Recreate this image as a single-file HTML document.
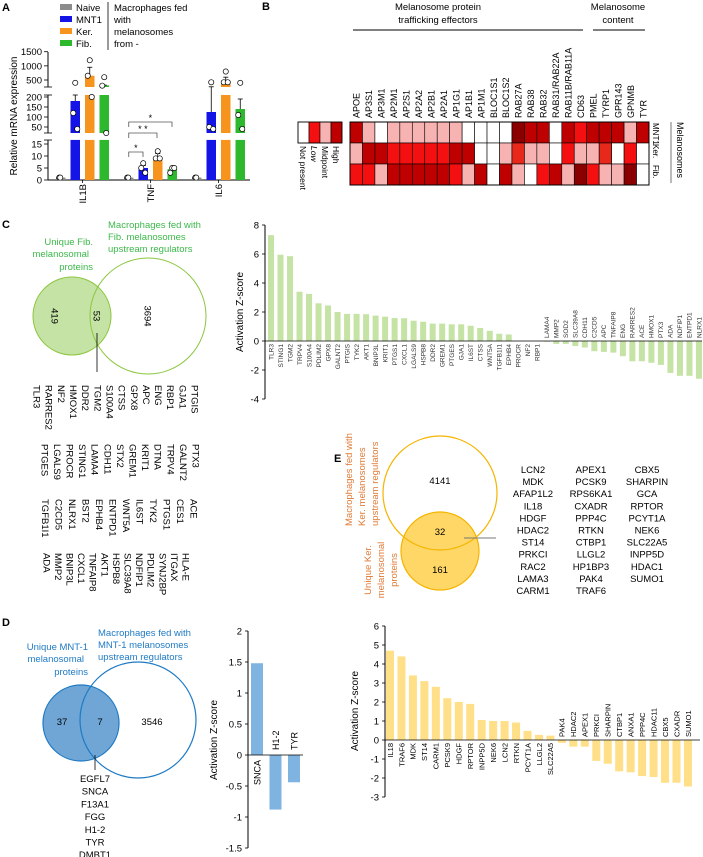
<!DOCTYPE html>
<html><head><meta charset="utf-8"><style>
body{margin:0;background:#fff;}
svg{display:block;font-family:"Liberation Sans",Arial,sans-serif;}
</style></head><body>
<svg id="fig" width="703" height="857" viewBox="0 0 703 857" xmlns="http://www.w3.org/2000/svg">
<g id="A"></g>
<g id="B"></g>
<g id="C"></g>
<g id="D"></g>
<g id="E"></g>
</svg>
<script>
// ---------- Panel A data ----------
const aGenes = ["IL1B","TNF","IL6"];
const aGroups = ["Naive","MNT1","Ker.","Fib."];
const aNaive = [1,1,1];
const aMNT1 = [180,5,125];
const aKer = [650,9.5,430];
const aFib = [310,4.5,140];
const aDotsNaive = [[1,1],[1,1],[1,1]];
const aDotsMNT1 = [[400,120,40],[7,5,3],[420,50,40]];
const aDotsKer = [[1200,650,200],[12,9,9],[800,420,420]];
const aDotsFib = [[600,300,20],[5,3,5],[400,110,40]];
const aErrMNT1 = [210,6,260];
const aErrKer = [950,11,600];
const aErrFib = [320,5.5,190];
const aTicks1 = [1500,1000,500];
const aTicks2 = [200,150,100,50];
const aTicks3 = [15,10,5,0];
// ---------- Panel B data ----------
const bCols = ["APOE","AP3S1","AP3M1","AP2M1","AP2S1","AP2A2","AP2B1","AP2A1","AP1G1","AP1B1","AP1M1","BLOC1S1","BLOC1S2","RAB27A","RAB38","RAB32","RAB31/RAB22A","RAB11B/RAB11A","CD63","PMEL","TYRP1","GPR143","GPNMB","TYR"];
const bRows = ["MNT1","Ker.","Fib."];
const bMNT1 = ["H","M","W","M","M","M","M","M","M","W","W","W","W","X","H","H","W","H","L","H","H","H","M","H"];
const bKer  = ["M","H","H","L","L","L","L","L","H","H","W","W","M","O","M","M","W","L","M","M","O","W","L","W"];
const bFib  = ["L","L","M","H","H","H","H","H","L","M","H","W","H","M","W","L","H","M","X","L","M","M","X","W"];
// ---------- Panel C data ----------
const cGenes = ["TLR3","STING1","TGM2","TRPV4","S100A4","PDLIM2","GPX8","GALNT2","PTGIS","TYK2","AKT1","BNIP3L","KRIT1","PTGS1","CXCL1","LGALS9","HSPB8","DDR2","GREM1","PTGES","GJA1","IL6ST","CTSS","WNT5A","TGFB1I1","EPHB4","PROCR","NF2","RBP1","LAMA4","MMP2","SOD2","SLC39A8","CDH11","C2CD5","APC","TNFAIP8","ENG","RARRES2","ACE","HMOX1","PTX3","ADA","NDFIP1","ENTPD1","NLRX1"];
const cValues = [7.3,5.95,5.85,3.4,3.25,2.6,2.45,2.0,1.87,1.87,1.85,1.75,1.68,1.58,1.57,1.4,1.33,1.2,1.2,1.15,1.15,1.05,0.9,0.7,0.5,0.45,0,0,0,-0.05,-0.2,-0.2,-0.35,-0.45,-0.7,-0.75,-0.8,-1.05,-1.4,-1.4,-1.5,-1.65,-2.2,-2.4,-2.4,-2.6];
const cTicks = [8,6,4,2,0,-2,-4];
// ---------- Panel D data ----------
const dGenes = ["SNCA","H1-2","TYR"];
const dValues = [1.48,-0.88,-0.44];
const dTicks = [2,1.5,1,0.5,0,-0.5,-1,-1.5];
// ---------- Panel E data ----------
const eGenes = ["IL18","TRAF6","MDK","ST14","CARM1","PCSK9","HDGF","RPTOR","INPP5D","NEK6","LCN2","RTKN","PCYT1A","LLGL2","SLC22A5","PAK4","HDAC2","APEX1","PRKCI","SHARPIN","CTBP1","ANXA1","PPP4C","HDAC11","CBX5","CXADR","SUMO1"];
const eValues = [4.7,4.4,3.4,3.1,2.8,2.2,2.0,1.9,1.05,1.0,1.0,0.92,0.48,0.27,0.23,-0.15,-0.35,-0.35,-1.1,-1.25,-1.65,-1.7,-1.9,-1.95,-2.25,-2.25,-2.45];
const eTicks = [6,5,4,3,2,1,0,-1,-2,-3];

const NS="http://www.w3.org/2000/svg";
function mk(parent,tag,attrs,text){const e=document.createElementNS(NS,tag);for(const k in attrs)e.setAttribute(k,attrs[k]);if(text!==undefined)e.textContent=text;parent.appendChild(e);return e;}

// ================= Panel A =================
const A=document.getElementById('A');
let t=mk(A,'text',{x:2,y:11,'font-size':11,'font-weight':'bold'},'A');


const aCols=["#8c8c8c","#1414e6","#f7941d","#2db82d"];
aGroups.forEach((g,i)=>{
  const r=mk(A,'rect',{x:60,y:4+i*12,width:12,height:6,fill:aCols[i]});
  
  
  const tx=mk(A,'text',{x:76,y:11+i*12,'font-size':9.5},g);
  
  
});
mk(A,'line',{x1:108,y1:2,x2:108,y2:50,stroke:'#000','stroke-width':0.8});
["Macrophages fed","with","melanosomes","from -"].forEach((s,i)=>{
  const tx=mk(A,'text',{x:114,y:11+i*12,'font-size':9.5},s);
  
  
});
function yA(v){
  if(v<=16.7) return 180-v*2.4;
  if(v<=210) return 127-(v-50)*0.2;
  return 80-(v-500)*0.0283;
}
[[52,87],[95,133],[140,180]].forEach(s=>mk(A,'line',{x1:48,y1:s[0],x2:48,y2:s[1],stroke:'#000','stroke-width':1}));
[[87],[95],[133],[140]].forEach(s=>mk(A,'line',{x1:44,y1:s[0],x2:52,y2:s[0],stroke:'#000','stroke-width':0.8}));
mk(A,'line',{x1:48,y1:180,x2:250,y2:180,stroke:'#000','stroke-width':1});
aTicks1.concat(aTicks2,aTicks3).forEach(v=>{
  const y=yA(v);
  mk(A,'line',{x1:44,y1:y,x2:48,y2:y,stroke:'#000','stroke-width':0.8});
  const tx=mk(A,'text',{x:42,y:y+3.5,'font-size':9.5,'text-anchor':'end'},v);
  
  
});
t=mk(A,'text',{transform:'translate(17,116) rotate(-90)','font-size':10,'text-anchor':'middle'},'Relative mRNA expression');


const aAll=[aNaive,aMNT1,aKer,aFib], aDots=[aDotsNaive,aDotsMNT1,aDotsKer,aDotsFib], aErr=[null,aErrMNT1,aErrKer,aErrFib];
const gStart=[56,124,192], bw=9.5, step=14.5;
aGenes.forEach((gene,gi)=>{
  const gx=gStart[gi];
  aAll.forEach((arr,si)=>{
    const v=arr[gi], x=gx+si*step;
    const segs=[[0,16.7,180,140],[20,210,133,95],[250,1500,87,52]];
    segs.forEach(s=>{
      if(v>s[0]){const top=yA(Math.min(v,s[1]));const r=mk(A,'rect',{x:x,y:top,width:bw,height:Math.max(0,s[2]-top),fill:aCols[si]});
        
        }
    });
    if(aErr[si]){const e=aErr[si][gi];const y1=yA(e),y0=yA(v);
      mk(A,'line',{x1:x+bw/2,y1:y1,x2:x+bw/2,y2:y0,stroke:'#000','stroke-width':0.8});
      mk(A,'line',{x1:x+bw/2-2.5,y1:y1,x2:x+bw/2+2.5,y2:y1,stroke:'#000','stroke-width':0.8});}
    aDots[si][gi].forEach((dv,di)=>{
      const c=mk(A,'circle',{cx:x+bw/2+(di===1?-2:(di===2?2:0))+(si===0?(di-0.5)*3:0),cy:yA(dv),r:2.6,fill:'#fff',stroke:'#000','stroke-width':0.7});
      
      
    });
  });
  const cx=gx+1.5*step+bw/2;
  mk(A,'line',{x1:cx,y1:180,x2:cx,y2:183,stroke:'#000','stroke-width':0.8});
  const tx=mk(A,'text',{transform:`translate(${cx+3.5},184) rotate(-90)`,'font-size':9.5,'text-anchor':'end'},gene);
  
  
});
[[122,172,'*'],[133,157,'* *'],[152,143,'*']].forEach(b=>{
  const x0=gStart[1]+bw/2;
  mk(A,'path',{d:`M${x0},${b[0]+5}V${b[0]}H${b[1]}V${b[0]+5}`,fill:'none',stroke:'#555','stroke-width':0.8});
  const tx=mk(A,'text',{x:(x0+b[1])/2,y:b[0]-1,'font-size':9,'text-anchor':'middle'},b[2]);
  
  
});

// ================= Panel B =================
const B=document.getElementById('B');
t=mk(B,'text',{x:262,y:10,'font-size':11,'font-weight':'bold'},'B');


const hmCol={W:'#ffffff',L:'#f41010',M:'#f7b2b2',H:'#bf0000',X:'#8a0000',O:'#e8281a'};
const bx0=350,bcw=299/24,by0=122,brh=21;
[bMNT1,bKer,bFib].forEach((row,ri)=>{
  row.forEach((c,ci)=>{
    const r=mk(B,'rect',{x:bx0+ci*bcw,y:by0+ri*brh,width:bcw,height:brh,fill:hmCol[c],stroke:'#000','stroke-width':0.6});
    
    
  });
});
mk(B,'rect',{x:bx0,y:by0,width:299,height:63,fill:'none',stroke:'#000','stroke-width':1});
bCols.forEach((g,ci)=>{
  const x=bx0+ci*bcw+bcw/2+3.5;
  const tx=mk(B,'text',{transform:`translate(${x},118) rotate(-90)`,'font-size':9},g);
  
  
});
bRows.forEach((r,ri)=>{
  const tx=mk(B,'text',{transform:`translate(653,${by0+ri*brh+1}) rotate(90)`,'font-size':8},r);
  
  
});
mk(B,'line',{x1:671,y1:122,x2:671,y2:183,stroke:'#555','stroke-width':0.8});
t=mk(B,'text',{transform:'translate(677,122) rotate(90)','font-size':9},'Melanosomes');

const legC=['#ffffff','#f41010','#f7b2b2','#bf0000'],legL=['Not present','Low','Midpoint','High'];
legC.forEach((c,i)=>{
  const r=mk(B,'rect',{x:298+i*11,y:122,width:11,height:21,fill:c,stroke:'#000','stroke-width':0.6});
  
  const tx=mk(B,'text',{transform:`translate(${298+i*11+2},146) rotate(90)`,'font-size':8.5,'font-style':i===1?'italic':'normal'},legL[i]);
  
});
mk(B,'rect',{x:298,y:122,width:44,height:21,fill:'none',stroke:'#000','stroke-width':0.8});
[["Melanosome protein",438,10],["trafficking effectors",438,23],["Melanosome",618,10],["content",618,23]].forEach(s=>{
  const tx=mk(B,'text',{x:s[1],y:s[2],'font-size':9.5,'text-anchor':'middle'},s[0]);
  
});
mk(B,'line',{x1:353,y1:30,x2:583,y2:30,stroke:'#000','stroke-width':1});
mk(B,'line',{x1:593,y1:30,x2:645,y2:30,stroke:'#000','stroke-width':1});

// ================= Panel C =================
const C=document.getElementById('C');
t=mk(C,'text',{x:2,y:228,'font-size':11,'font-weight':'bold'},'C');

const green='#3cb84a';
let c1=mk(C,'circle',{cx:72,cy:316,r:39,fill:'#c5e3a4',stroke:'#8cc63f','stroke-width':1});

let c2=mk(C,'circle',{cx:148,cy:316,r:58,fill:'none',stroke:'#8cc63f','stroke-width':1});

[["419",55],["53",97],["3694",148]].forEach(s=>{
  const tx=mk(C,'text',{transform:`translate(${s[1]-3.5},316) rotate(90)`,'font-size':9.5,'text-anchor':'middle'},s[0]);
  
});
mk(C,'line',{x1:97,y1:333,x2:97,y2:372,stroke:'#000','stroke-width':0.8});
[["Unique Fib.",93,245],["melanosomal",89,257],["proteins",93,270]].forEach(s=>{
  const tx=mk(C,'text',{x:s[1],y:s[2],'font-size':9.5,fill:green,'text-anchor':'end'},s[0]);
  
});
[["Macrophages fed with",108,228],["Fib. melanosomes",108,240],["upstream regulators",108,252]].forEach(s=>{
  const tx=mk(C,'text',{x:s[1],y:s[2],'font-size':9.5,fill:green},s[0]);
  
});
const cBlocks=[
 [385,195,12.15,["PTGIS","GJA1","RBP1","ENG","APC","GPX8","CTSS","S100A4","TGM2","DDR2","HMOX1","NF2","RARRES2","TLR3"]],
 [444,196,12.6,["PTX3","GALNT2","TRPV4","DTNA","KRIT1","GREM1","STX2","CDH11","LAMA4","STING1","PROCR","LGALS9","PTGES"]],
 [499,194,13.5,["ACE","CES1","PTGS1","TYK2","IL6ST","WNT5A","ENTPD1","EPHB4","BST2","NLRX1","C2CD5","TGFB1I1"]],
 [553,186,11.6,["HLA-E","ITGAX","SYNJ2BP","PDLIM2","NDFIP1","SLC39A8","HSPB8","AKT1","TNFAIP8","CXCL1","BNIP3L","MMP2","ADA"]]];
cBlocks.forEach(b=>{b[3].forEach((g,i)=>{
  const tx=mk(C,'text',{transform:`translate(${b[1]-i*b[2]-3.5},${b[0]}) rotate(90)`,'font-size':9.5},g);
  
});});
function yC(v){return 341-v*14.5;}
function xC(i){return 271+i*9.51;}
mk(C,'line',{x1:265,y1:yC(8),x2:265,y2:yC(-4),stroke:'#000','stroke-width':1});
cTicks.forEach(v=>{
  mk(C,'line',{x1:262,y1:yC(v),x2:265,y2:yC(v),stroke:'#000','stroke-width':0.8});
  const tx=mk(C,'text',{x:259,y:yC(v)+3.5,'font-size':9.5,'text-anchor':'end'},v);
  
});
t=mk(C,'text',{transform:'translate(243,312) rotate(-90)','font-size':10,'text-anchor':'middle'},'Activation Z-score');

cGenes.forEach((g,i)=>{
  const v=cValues[i],x=xC(i);
  const r=mk(C,'rect',{x:x-3,y:Math.min(yC(v),yC(0)),width:6,height:Math.abs(yC(v)-yC(0)),fill:'#c5e3a4'});
  
  const tx=v>=0?mk(C,'text',{transform:`translate(${x+2.3},${yC(0)+3}) rotate(-90)`,'font-size':6.5,'text-anchor':'end',fill:'#333'},g)
               :mk(C,'text',{transform:`translate(${x+2.3},${yC(0)-3}) rotate(-90)`,'font-size':6.5,fill:'#333'},g);
  
});
mk(C,'line',{x1:265,y1:yC(0),x2:702,y2:yC(0),stroke:'#000','stroke-width':0.8});

// ================= Panel D =================
const D=document.getElementById('D');
t=mk(D,'text',{x:2,y:626,'font-size':11,'font-weight':'bold'},'D');

const blue='#1f7ac4';
c1=mk(D,'circle',{cx:81,cy:723,r:38,fill:'#6fa6d6',stroke:blue,'stroke-width':1.2});

c2=mk(D,'circle',{cx:138,cy:720,r:58,fill:'none',stroke:blue,'stroke-width':1.2});

[["37",62],["7",100],["3546",152]].forEach(s=>{
  const tx=mk(D,'text',{x:s[1],y:725,'font-size':9.5,'text-anchor':'middle'},s[0]);
  
});
mk(D,'line',{x1:95,y1:755,x2:95,y2:770,stroke:'#000','stroke-width':0.8});
[["Unique MNT-1",88,650],["melanosomal",84,662],["proteins",88,675]].forEach(s=>{
  const tx=mk(D,'text',{x:s[1],y:s[2],'font-size':9.5,fill:blue,'text-anchor':'end'},s[0]);
  
});
[["Macrophages fed with",98,636],["MNT-1 melanosomes",98,648],["upstream regulators",98,660]].forEach(s=>{
  const tx=mk(D,'text',{x:s[1],y:s[2],'font-size':9.5,fill:blue},s[0]);
  
});
["EGFL7","SNCA","F13A1","FGG","H1-2","TYR","DMBT1"].forEach((g,i)=>{
  const tx=mk(D,'text',{x:95,y:782+i*12.7,'font-size':9.5,'text-anchor':'middle'},g);
  
});
function yD(v){return 755-v*62;}
function xD(i){return 257+i*18.5;}
mk(D,'line',{x1:248,y1:yD(2),x2:248,y2:yD(-1.5),stroke:'#000','stroke-width':1});
dTicks.forEach(v=>{
  mk(D,'line',{x1:245,y1:yD(v),x2:248,y2:yD(v),stroke:'#000','stroke-width':0.8});
  const tx=mk(D,'text',{x:242,y:yD(v)+3.5,'font-size':9.5,'text-anchor':'end'},v);
  
});
t=mk(D,'text',{transform:'translate(217,740) rotate(-90)','font-size':10,'text-anchor':'middle'},'Activation Z-score');

dGenes.forEach((g,i)=>{
  const v=dValues[i],x=xD(i);
  const r=mk(D,'rect',{x:x-6,y:Math.min(yD(v),yD(0)),width:12,height:Math.abs(yD(v)-yD(0)),fill:'#7fb3e0'});
  
  const tx=v>=0?mk(D,'text',{transform:`translate(${x+3.5},${yD(0)+5}) rotate(-90)`,'font-size':9,'text-anchor':'end'},g)
               :mk(D,'text',{transform:`translate(${x+3.5},${yD(0)-5}) rotate(-90)`,'font-size':9},g);
  
});
mk(D,'line',{x1:248,y1:yD(0),x2:303,y2:yD(0),stroke:'#000','stroke-width':0.8});

// ================= Panel E =================
const E=document.getElementById('E');
t=mk(E,'text',{x:334,y:462,'font-size':11,'font-weight':'bold'},'E');

const orange='#e07a35';
c1=mk(E,'circle',{cx:440,cy:551,r:39,fill:'#ffd766',stroke:'#f5b400','stroke-width':1.2});

c2=mk(E,'circle',{cx:440,cy:493,r:57,fill:'none',stroke:'#f5b400','stroke-width':1.2});

[["4141",484],["32",535],["161",573]].forEach(s=>{
  const tx=mk(E,'text',{x:440,y:s[1],'font-size':9.5,'text-anchor':'middle'},s[0]);
  
});
mk(E,'line',{x1:464,y1:538,x2:496,y2:538,stroke:'#777','stroke-width':1});
[["Macrophages fed with",352],["Ker. melanosomes",365],["upstream regulators",378]].forEach(s=>{
  const tx=mk(E,'text',{transform:`translate(${s[1]},526) rotate(-90)`,'font-size':9.5,fill:orange},s[0]);
  
});
[["Unique Ker.",371],["melanosomal",384],["proteins",397]].forEach(s=>{
  const tx=mk(E,'text',{transform:`translate(${s[1]},570) rotate(-90)`,'font-size':9.5,fill:orange,'text-anchor':'middle'},s[0]);
  
});
[[533,["LCN2","MDK","AFAP1L2","IL18","HDGF","HDAC2","ST14","PRKCI","RAC2","LAMA3","CARM1"]],
 [591,["APEX1","PCSK9","RPS6KA1","CXADR","PPP4C","RTKN","CTBP1","LLGL2","HP1BP3","PAK4","TRAF6"]],
 [647,["CBX5","SHARPIN","GCA","RPTOR","PCYT1A","NEK6","SLC22A5","INPP5D","HDAC1","SUMO1"]]].forEach(col=>{
  col[1].forEach((g,i)=>{
    const tx=mk(E,'text',{x:col[0],y:473+i*12.1,'font-size':9.5,'text-anchor':'middle'},g);
    
  });
});
function yE(v){return 740-v*19;}
function xE(i){return 390+i*11.46;}
mk(E,'line',{x1:385,y1:yE(6),x2:385,y2:yE(-3),stroke:'#000','stroke-width':1});
eTicks.forEach(v=>{
  mk(E,'line',{x1:382,y1:yE(v),x2:385,y2:yE(v),stroke:'#000','stroke-width':0.8});
  const tx=mk(E,'text',{x:379,y:yE(v)+3.5,'font-size':9.5,'text-anchor':'end'},v);
  
});
t=mk(E,'text',{transform:'translate(358,711) rotate(-90)','font-size':10,'text-anchor':'middle'},'Activation Z-score');

eGenes.forEach((g,i)=>{
  const v=eValues[i],x=xE(i);
  const r=mk(E,'rect',{x:x-4,y:Math.min(yE(v),yE(0)),width:8,height:Math.abs(yE(v)-yE(0)),fill:'#ffdf88'});
  
  const tx=v>=0?mk(E,'text',{transform:`translate(${x+2.8},${yE(0)+3}) rotate(-90)`,'font-size':7.5,'text-anchor':'end'},g)
               :mk(E,'text',{transform:`translate(${x+2.8},${yE(0)-3}) rotate(-90)`,'font-size':7.5},g);
  
});
mk(E,'line',{x1:385,y1:yE(0),x2:700,y2:yE(0),stroke:'#000','stroke-width':0.8});
</script>
</body></html>
